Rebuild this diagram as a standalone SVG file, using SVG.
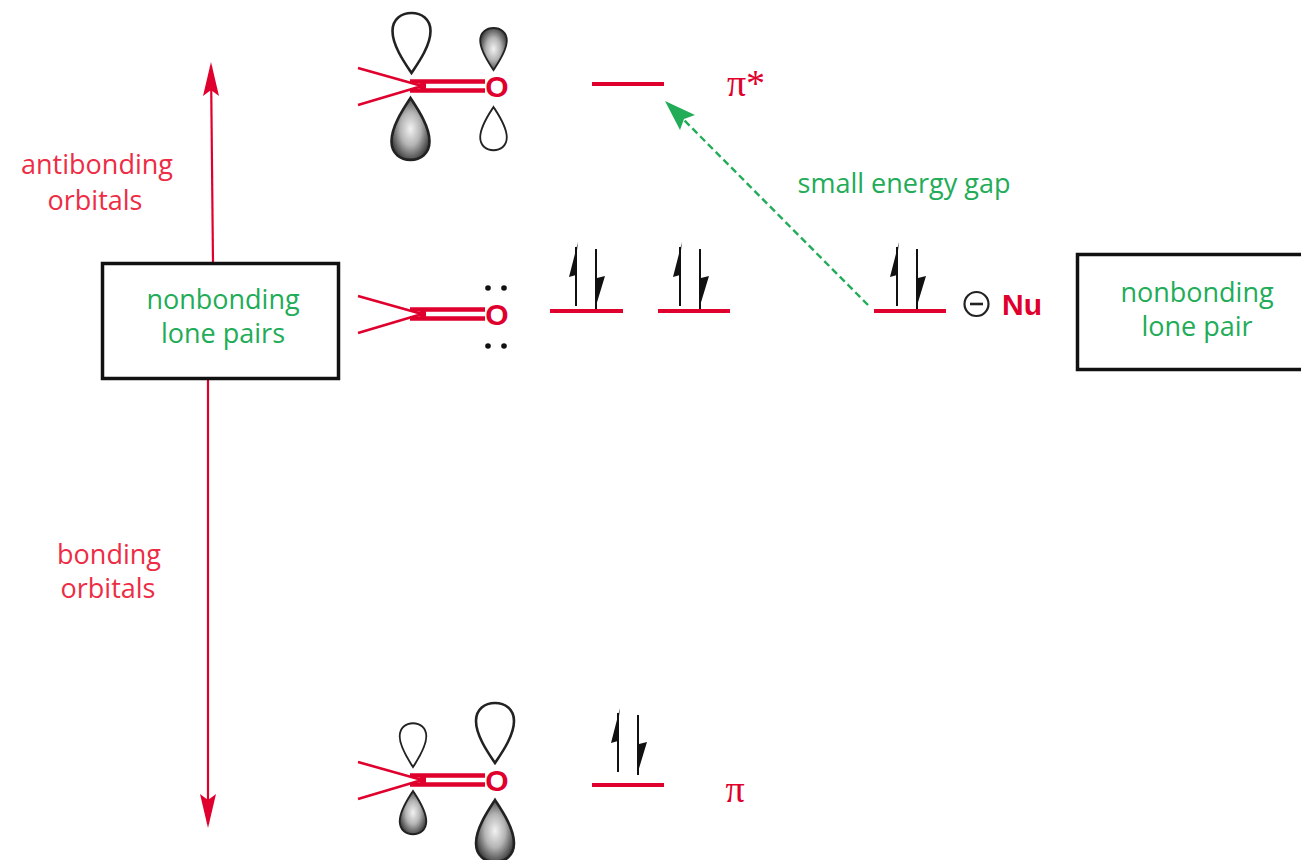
<svg xmlns="http://www.w3.org/2000/svg" width="1301" height="860" viewBox="0 0 1301 860">
<style>
text{font-family:"Open Sans","Noto Sans",sans-serif;font-size:27px;text-anchor:middle}
.r{fill:#ed2c45}.g{fill:#22ac58}
.box{fill:#fff;stroke:#111;stroke-width:3.5}
.lv{stroke:#e0002d;stroke-width:4;fill:none}
.wl{stroke:#e0002d;stroke-width:2.6;fill:none}
.db{stroke:#e0002d;stroke-width:4.4;fill:none}
.w{fill:#fff;stroke:#222;stroke-width:2.6;vector-effect:non-scaling-stroke}
.d{fill:url(#gr);stroke:#222;stroke-width:2.6;vector-effect:non-scaling-stroke}
.ox{font-family:"Liberation Sans",Arial,sans-serif;font-weight:700;font-size:30px;fill:#e0002d}
.pi{font-family:"Liberation Serif","Times New Roman",serif;font-size:38px;fill:#e0002d}
.dot{fill:#111}
</style>
<defs>
<radialGradient id="gr" cx="0.5" cy="0.5" r="0.6"><stop offset="0" stop-color="#f2f2f2"/><stop offset="0.45" stop-color="#b4b4b4"/><stop offset="1" stop-color="#222"/></radialGradient>
<path id="lobe" d="M0 0C-6 -9 -19 -27 -19 -42C-19 -54 -10 -60 0 -60C10 -60 19 -54 19 -42C19 -27 6 -9 0 0Z"/>
<marker id="ar" markerUnits="userSpaceOnUse" markerWidth="20" markerHeight="34" refX="18" refY="9" orient="auto"><path d="M0 0L32 9L0 18L0 9Z" fill="#e0002d"/></marker>
<g id="co">
<path class="wl" d="M-62 -18L2 0M-62 19L2 0"/>
<path class="db" d="M-10 -4.500H65M-10 4.500H65"/>
<path d="M0 -5H6V5H0Z" fill="#e0002d"/>
<text class="ox" x="77" y="11">O</text>
</g>
<g id="spin">
<path d="M0 -3V-62" stroke="#111" stroke-width="2" fill="none"/>
<path d="M2 -67L-7 -32L0 -34V-50Z" fill="#111"/>
<path d="M20 -60V0" stroke="#111" stroke-width="2" fill="none"/>
<path d="M19 0L29 -33L21 -31V-10Z" fill="#111"/>
</g>
</defs>
<g id="connectors">
<path d="M213 263L211 66" stroke="#e0002d" stroke-width="2.200" fill="none"/>
<path d="M211 62L203 96L211 90L219 96Z" fill="#e0002d"/>
<path d="M208 376V824" stroke="#e0002d" stroke-width="2.200" fill="none"/>
<path d="M208 828L200 794L208 800L216 794Z" fill="#e0002d"/>
<path d="M868 305L680 116" stroke="#22ac58" stroke-width="2.400" stroke-dasharray="7 4" fill="none"/>
<path d="M665 101L695 115L684 119L680 130Z" fill="#22ac58"/>
</g>
<g id="pi-star-carbonyl">
<use href="#lobe" class="w" transform="translate(411.500 73)"/>
<use href="#lobe" class="d" transform="translate(410.500 98) scale(1 -1.030)"/>
<use href="#lobe" class="d" transform="translate(493.500 70) scale(.7)"/>
<use href="#lobe" class="w" transform="translate(493.500 107) scale(.7 -.72)"/>
<use href="#co" x="420" y="86"/>
</g>
<g id="nonbonding-carbonyl">
<use href="#co" x="420" y="314"/>
<circle class="dot" cx="488" cy="288" r="2.800"/><circle class="dot" cx="504" cy="288" r="2.800"/>
<circle class="dot" cx="488" cy="346" r="2.800"/><circle class="dot" cx="504" cy="346" r="2.800"/>
</g>
<g id="pi-carbonyl">
<use href="#lobe" class="w" transform="translate(413 767) scale(.7 .73)"/>
<use href="#lobe" class="d" transform="translate(413 791) scale(.7 -.72)"/>
<use href="#lobe" class="w" transform="translate(495 763)"/>
<use href="#lobe" class="d" transform="translate(495 800) scale(1 -1.030)"/>
<use href="#co" x="420" y="780"/>
</g>
<g id="level-pi-star"><path class="lv" d="M592 84H664"/><text class="pi" x="746" y="96">π*</text></g>
<g id="level-n1"><path class="lv" d="M550 311H623"/><use href="#spin" x="576" y="309"/></g>
<g id="level-n2"><path class="lv" d="M658 311H730"/><use href="#spin" x="680" y="309"/></g>
<g id="level-nu"><path class="lv" d="M874 311H946"/><use href="#spin" x="897" y="309"/></g>
<g id="level-pi"><path class="lv" d="M592 785H664"/><use href="#spin" x="618" y="775"/><text class="pi" x="735" y="802">π</text></g>
<g id="nucleophile">
<circle cx="976.500" cy="304" r="12" fill="none" stroke="#222" stroke-width="2.200"/><path d="M970 304H983" stroke="#222" stroke-width="2.600"/>
<text x="1022" y="315" style="font-family:'Liberation Sans',Arial,sans-serif;font-weight:700;font-size:30px;fill:#e0002d">Nu</text>
</g>
<g id="box-left"><rect class="box" x="102.500" y="263.500" width="236" height="115"/>
<text class="g" x="223" y="309">nonbonding</text><text class="g" x="223" y="343">lone pairs</text></g>
<g id="box-right"><rect class="box" x="1077.500" y="254.500" width="240" height="115"/>
<text class="g" x="1197" y="302">nonbonding</text><text class="g" x="1197" y="336">lone pair</text></g>
<g id="label-antibonding"><text class="r" x="97" y="174">antibonding</text><text class="r" x="95" y="210">orbitals</text></g>
<g id="label-bonding"><text class="r" x="109" y="564">bonding</text><text class="r" x="108" y="598">orbitals</text></g>
<g id="label-gap"><text class="g" x="904" y="193">small energy gap</text></g>
</svg>
